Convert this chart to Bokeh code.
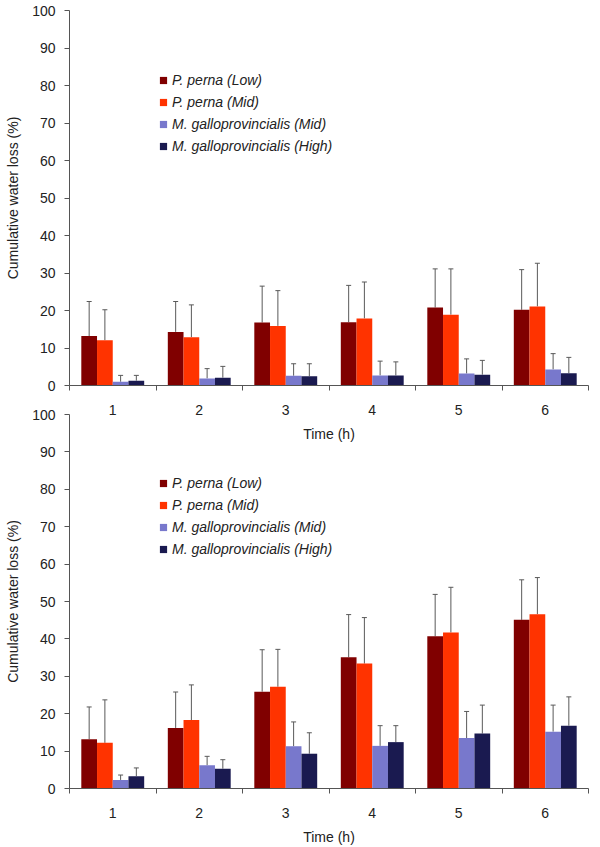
import numpy as np
from bokeh.plotting import figure
from bokeh.models import (Range1d, FixedTicker, ColumnDataSource, Whisker, TeeHead,
                          Legend, LegendItem, Column)
from bokeh.embed import file_html
from bokeh.resources import INLINE

# ---------------- data ----------------
times = ["1", "2", "3", "4", "5", "6"]
series = ["P. perna (Low)", "P. perna (Mid)",
          "M. galloprovincialis (Mid)", "M. galloprovincialis (High)"]
colors = ["#800000", "#FF3300", "#7878CC", "#1A1A50"]

# top panel: means and SD
pp_low_a = [13.2, 14.3, 16.8, 16.9, 20.8, 20.2]
pp_low_a_sd = [9.2, 8.1, 9.7, 9.8, 10.3, 10.7]
pp_mid_a = [12.1, 12.9, 15.9, 17.9, 18.9, 21.1]
pp_mid_a_sd = [8.1, 8.6, 9.4, 9.7, 12.2, 11.5]
mg_mid_a = [1.0, 1.9, 2.6, 2.7, 3.2, 4.3]
mg_mid_a_sd = [1.7, 2.6, 3.2, 3.8, 3.9, 4.2]
mg_high_a = [1.3, 2.1, 2.5, 2.7, 2.9, 3.3]
mg_high_a_sd = [1.4, 3.0, 3.3, 3.6, 3.8, 4.2]

# bottom panel: means and SD
pp_low_b = [13.2, 16.2, 25.9, 35.1, 40.7, 45.1]
pp_low_b_sd = [8.6, 9.6, 11.2, 11.4, 11.2, 10.7]
pp_mid_b = [12.2, 18.3, 27.2, 33.4, 41.7, 46.6]
pp_mid_b_sd = [11.5, 9.4, 10.0, 12.3, 12.1, 9.8]
mg_mid_b = [2.3, 6.2, 11.3, 11.4, 13.5, 15.2]
mg_mid_b_sd = [1.3, 2.4, 6.5, 5.4, 7.1, 7.1]
mg_high_b = [3.3, 5.3, 9.3, 12.4, 14.7, 16.8]
mg_high_b_sd = [2.2, 2.4, 5.6, 4.4, 7.6, 7.7]

y_ticks = [0, 10, 20, 30, 40, 50, 60, 70, 80, 90, 100]

FONT = "Liberation Sans"
AXIS_COLOR = "#555555"
TEXT_COLOR = "#222222"
ERR_COLOR = "#595959"


def make_panel(height, border_top, border_bottom, means_list, sd_list):
    p = figure(width=600, height=height,
               x_range=Range1d(0, len(times)), y_range=Range1d(0, 100),
               output_backend="svg", toolbar_location=None,
               min_border_left=69, min_border_right=12,
               min_border_top=border_top, min_border_bottom=border_bottom)
    p.outline_line_color = None
    p.grid.visible = False

    n = len(series)
    group_w = 0.727
    bar_w = group_w / n
    centers = np.arange(len(times)) + 0.5

    for k in range(n):
        xs = centers + (k - (n - 1) / 2) * bar_w
        m = np.array(means_list[k], dtype=float)
        sd = np.array(sd_list[k], dtype=float)
        src = ColumnDataSource(dict(x=xs, top=m, lower=m, upper=m + sd))
        p.vbar(x="x", top="top", bottom=0, width=bar_w, source=src,
               fill_color=colors[k], line_color=None)
        wh = Whisker(source=src, base="x", lower="lower", upper="upper",
                     line_color=ERR_COLOR, line_width=1,
                     upper_head=TeeHead(size=5, line_color=ERR_COLOR, line_width=1),
                     lower_head=None)
        p.add_layout(wh)

    # legend (square swatches; proxy renderers hold no visible point)
    items = []
    for k in range(n):
        r = p.scatter(x=[np.nan], y=[np.nan], marker="square", size=7,
                      fill_color=colors[k], line_color=None)
        items.append(LegendItem(label=series[k], renderers=[r]))
    legend = Legend(items=items, location=(85, 230), padding=0, margin=0,
                    spacing=4, glyph_width=18, glyph_height=18, label_height=18,
                    label_standoff=0, label_text_font=FONT,
                    label_text_font_size="14px", label_text_font_style="italic",
                    label_text_color=TEXT_COLOR, border_line_alpha=0,
                    background_fill_alpha=0)
    p.add_layout(legend)

    # y axis
    ya = p.yaxis[0]
    ya.ticker = FixedTicker(ticks=y_ticks)
    ya.axis_label = "Cumulative water loss (%)"
    ya.axis_label_text_font = FONT
    ya.axis_label_text_font_size = "14px"
    ya.axis_label_text_font_style = "normal"
    ya.axis_label_text_color = TEXT_COLOR
    ya.axis_label_standoff = 8
    ya.major_label_text_font = FONT
    ya.major_label_text_font_size = "14px"
    ya.major_label_text_color = TEXT_COLOR
    ya.major_label_standoff = 9
    ya.major_tick_out = 5
    ya.major_tick_in = 0
    ya.minor_tick_out = 0
    ya.minor_tick_in = 0
    ya.axis_line_color = AXIS_COLOR
    ya.major_tick_line_color = AXIS_COLOR

    # x axis: labels at category centres, ticks at category boundaries
    xa = p.xaxis[0]
    xa.ticker = FixedTicker(ticks=list(centers),
                            minor_ticks=list(range(len(times) + 1)))
    xa.major_label_overrides = {float(c): t for c, t in zip(centers, times)}
    xa.axis_label = "Time (h)"
    xa.axis_label_text_font = FONT
    xa.axis_label_text_font_size = "14px"
    xa.axis_label_text_font_style = "normal"
    xa.axis_label_text_color = TEXT_COLOR
    xa.axis_label_standoff = 8
    xa.major_label_text_font = FONT
    xa.major_label_text_font_size = "14px"
    xa.major_label_text_color = TEXT_COLOR
    xa.major_label_standoff = 14
    xa.major_tick_out = 0
    xa.major_tick_in = 0
    xa.minor_tick_out = 5
    xa.minor_tick_in = 0
    xa.axis_line_color = AXIS_COLOR
    xa.minor_tick_line_color = AXIS_COLOR
    return p


p1 = make_panel(445, 10, 60,
                [pp_low_a, pp_mid_a, mg_mid_a, mg_high_a],
                [pp_low_a_sd, pp_mid_a_sd, mg_mid_a_sd, mg_high_a_sd])
p2 = make_panel(445, 12, 58,
                [pp_low_b, pp_mid_b, mg_mid_b, mg_high_b],
                [pp_low_b_sd, pp_mid_b_sd, mg_mid_b_sd, mg_high_b_sd])
p2.background_fill_color = None
p2.border_fill_color = None
p2.margin = (-43, 0, 0, 0)

layout = Column(p1, p2)

open("out.html", "w").write(file_html(layout, INLINE))
